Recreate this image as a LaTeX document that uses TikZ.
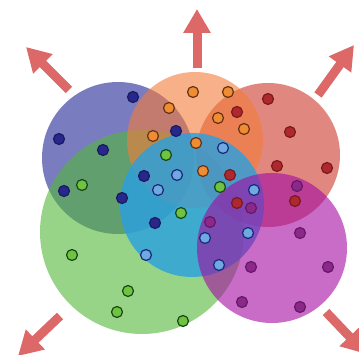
\documentclass[tikz,border=0pt]{standalone}
\usetikzlibrary{arrows.meta}
\definecolor{cBlue}{RGB}{33,37,150}
\definecolor{cGreen}{RGB}{83,183,57}
\definecolor{cOrange}{RGB}{243,123,57}
\definecolor{cRed}{RGB}{203,57,43}
\definecolor{cCyan}{RGB}{40,160,225}
\definecolor{cMag}{RGB}{163,10,163}
\definecolor{arrowred}{RGB}{221,104,104}
\definecolor{dBlue}{RGB}{40,40,140}
\definecolor{dBlueO}{RGB}{25,25,95}
\definecolor{dOrange}{RGB}{240,140,50}
\definecolor{dOrangeO}{RGB}{100,50,20}
\definecolor{dRed}{RGB}{175,40,45}
\definecolor{dRedO}{RGB}{120,25,30}
\definecolor{dGreen}{RGB}{110,195,65}
\definecolor{dGreenO}{RGB}{25,70,20}
\definecolor{dCyan}{RGB}{110,170,225}
\definecolor{dCyanO}{RGB}{25,40,120}
\definecolor{dMag}{RGB}{140,40,140}
\definecolor{dMagO}{RGB}{100,25,100}
\tikzset{
  bigcirc/.style={circle, inner sep=0pt, draw=none, fill opacity=0.6},
  dotnode/.style={circle, inner sep=0pt, minimum size=11pt, line width=1.2pt},
  outarrow/.style={draw=arrowred, line width=9pt, -{Triangle[width=26pt,length=24pt]}, arrowred},
}
\begin{document}
\begin{tikzpicture}[x=1pt,y=-1pt]
\useasboundingbox (0,0) rectangle (359,355);
\begin{scope}
\clip (0,0) rectangle (359,355);
% big circles
\node[bigcirc, fill=cBlue, minimum size=152pt] (blueC) at (118,158) {};
\node[bigcirc, fill=cGreen, minimum size=204pt] (greenC) at (142,232) {};
\node[bigcirc, fill=cRed, minimum size=144pt] (redC) at (268,155) {};
\node[bigcirc, fill=cOrange, minimum size=136pt] (orangeC) at (195,140) {};
\node[bigcirc, fill=cCyan, fill opacity=0.8, minimum size=144pt] (cyanC) at (192,205) {};
\node[bigcirc, fill=cMag, minimum size=150pt] (magC) at (272,248) {};
% arrows
\coordinate (t1) at (197,68);  \coordinate (h1) at (197,9);
\coordinate (t2) at (69,90);   \coordinate (h2) at (26,47);
\coordinate (t3) at (318,95);  \coordinate (h3) at (354,45);
\coordinate (t4) at (60,316);  \coordinate (h4) at (18,356);
\coordinate (t5) at (326,312); \coordinate (h5) at (366,354);
\foreach \i in {1,...,5} {\draw[outarrow] (t\i) -- (h\i);}
% blue dots
\foreach \p [count=\k] in {(133,97),(59,139),(103,150),(176,131),(144,176),(64,191),(122,198),(155,223)}
  \node[dotnode, fill=dBlue, draw=dBlueO] (b\k) at \p {};
% orange dots
\foreach \p [count=\k] in {(193,92),(228,92),(169,108),(218,118),(244,129),(153,136),(196,143),(203,171)}
  \node[dotnode, fill=dOrange, draw=dOrangeO] (o\k) at \p {};
% red dots
\foreach \p [count=\k] in {(268,99),(237,112),(290,132),(277,166),(327,168),(230,175),(237,203),(295,201)}
  \node[dotnode, fill=dRed, draw=dRedO] (r\k) at \p {};
% green dots
\foreach \p [count=\k] in {(82,185),(166,155),(220,187),(181,213),(72,255),(128,291),(117,312),(183,321)}
  \node[dotnode, fill=dGreen, draw=dGreenO] (g\k) at \p {};
% light blue dots
\foreach \p [count=\k] in {(223,148),(177,175),(158,190),(254,190),(205,238),(248,233),(146,255),(219,265)}
  \node[dotnode, fill=dCyan, draw=dCyanO] (c\k) at \p {};
% magenta dots
\foreach \p [count=\k] in {(297,186),(251,208),(210,222),(300,233),(251,267),(328,267),(242,302),(300,307)}
  \node[dotnode, fill=dMag, draw=dMagO] (m\k) at \p {};
\end{scope}
\end{tikzpicture}
\end{document}
